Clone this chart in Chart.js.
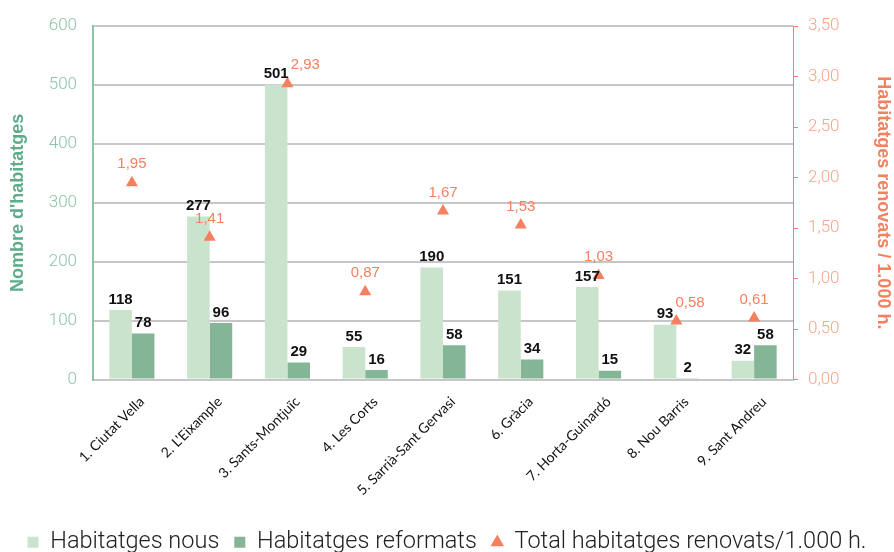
<!DOCTYPE html>
<html>
<head>
<meta charset="utf-8">
<script src="https://cdn.jsdelivr.net/npm/chart.js@4.4.1/dist/chart.umd.min.js"></script>
<style>
  html, body { margin: 0; padding: 0; background: #fff; }
  #wrap { width: 894px; height: 552px; }
</style>
</head>
<body>
<div id="wrap"><canvas id="chart" width="894" height="552"></canvas></div>
<script>
const districts = ['1. Ciutat Vella', '2. L\u2019Eixample', '3. Sants-Montju\u00efc', '4. Les Corts',
  '5. Sarri\u00e0-Sant Gervasi', '6. Gr\u00e0cia', '7. Horta-Guinard\u00f3', '8. Nou Barris', '9. Sant Andreu'];
const nous = [118, 277, 501, 55, 190, 151, 157, 93, 32];
const reformats = [78, 96, 29, 16, 58, 34, 15, 2, 58];
const totalPer1000 = [1.95, 1.41, 2.93, 0.87, 1.67, 1.53, 1.03, 0.58, 0.61];

const lightGreen = '#c9e3cd';
const darkGreen = '#84b597';
const orange = '#f5805f';

const fmt = (v) => v.toFixed(2).replace('.', ',');

// numbers above bars and triangles; triangle labels move right if they hit a bar label
const valueLabels = {
  id: 'valueLabels',
  afterDatasetsDraw(chart) {
    const ctx = chart.ctx;
    const boxes = [];
    ctx.save();
    ctx.textBaseline = 'bottom';
    ctx.textAlign = 'center';
    ctx.font = 'bold 15px "Liberation Sans", Arial, sans-serif';
    ctx.fillStyle = '#111';
    [0, 1].forEach((i) => {
      const ds = chart.data.datasets[i];
      chart.getDatasetMeta(i).data.forEach((el, j) => {
        const txt = String(ds.data[j]);
        const w = ctx.measureText(txt).width;
        const y = el.y - 3;
        ctx.fillText(txt, el.x, y);
        boxes.push({ l: el.x - w / 2, r: el.x + w / 2, t: y - 12, b: y });
      });
    });
    ctx.font = '15px "Liberation Sans", Arial, sans-serif';
    ctx.fillStyle = orange;
    const ds = chart.data.datasets[2];
    chart.getDatasetMeta(2).data.forEach((el, j) => {
      const txt = fmt(ds.data[j]);
      const w = ctx.measureText(txt).width;
      const y = el.y - 11;
      let x = el.x;
      boxes.forEach((b) => {
        if (x - w / 2 < b.r && x + w / 2 > b.l && y - 12 < b.b && y > b.t) {
          x = b.r + w / 2 + 2;
        }
      });
      ctx.fillText(txt, x, y);
    });
    ctx.restore();
  }
};

new Chart(document.getElementById('chart'), {
  data: {
    labels: districts,
    datasets: [
      {
        type: 'bar',
        label: 'Habitatges nous',
        data: nous,
        backgroundColor: lightGreen,
        yAxisID: 'y',
        pointStyle: 'rect',
        categoryPercentage: 0.58,
        barPercentage: 1.0,
        order: 1
      },
      {
        type: 'bar',
        label: 'Habitatges reformats',
        data: reformats,
        backgroundColor: darkGreen,
        yAxisID: 'y',
        pointStyle: 'rect',
        categoryPercentage: 0.58,
        barPercentage: 1.0,
        order: 1
      },
      {
        type: 'line',
        label: 'Total habitatges renovats/1.000 h.',
        data: totalPer1000,
        yAxisID: 'y1',
        showLine: false,
        pointStyle: 'triangle',
        pointRadius: 7,
        backgroundColor: orange,
        borderColor: orange,
        borderWidth: 0,
        order: 0
      }
    ]
  },
  options: {
    responsive: false,
    animation: false,
    layout: { padding: { top: 24, left: 0, right: 0, bottom: -12 } },
    plugins: {
      tooltip: { enabled: false },
      legend: {
        position: 'bottom',
        labels: {
          usePointStyle: true,
          boxWidth: 11,
          boxHeight: 11,
          padding: 15,
          color: '#222',
          font: { family: 'Roboto', size: 23.5, weight: 300 },
          sort: (a, b) => a.datasetIndex - b.datasetIndex
        }
      }
    },
    scales: {
      x: {
        afterFit: (s) => { s.height = 136; },
        grid: { display: false, drawTicks: false },
        border: { color: '#c6c6c6', width: 2 },
        ticks: {
          color: '#111',
          maxRotation: 45,
          minRotation: 45,
          padding: 14,
          labelOffset: 10,
          font: { family: 'Lato', size: 14 }
        }
      },
      y: {
        position: 'left',
        afterFit: (s) => { s.width = 93; },
        min: 0,
        max: 600,
        ticks: {
          stepSize: 100,
          color: '#8cc4a7',
          padding: 16,
          font: { family: 'Roboto', size: 17, weight: 300 }
        },
        grid: { color: '#c6c6c6', lineWidth: 2, drawTicks: false },
        border: { color: '#8cc4a7', width: 2 },
        title: {
          display: true,
          text: "Nombre d'habitatges",
          color: '#5cac8a',
          font: { family: '"Liberation Sans", Arial', size: 18, weight: 'bold' },
          padding: { top: 7, bottom: 0 }
        }
      },
      y1: {
        position: 'right',
        afterFit: (s) => { s.width = 101; },
        min: 0,
        max: 3.5,
        ticks: {
          stepSize: 0.5,
          color: '#f9a58b',
          padding: 10,
          callback: (v) => fmt(v),
          font: { family: 'Roboto', size: 17, weight: 300 }
        },
        grid: { drawOnChartArea: false, color: orange, tickLength: 5 },
        border: { color: orange, width: 1 },
        title: {
          display: true,
          text: 'Habitatges renovats / 1.000 h.',
          color: '#f3805f',
          font: { family: '"Liberation Sans", Arial', size: 18, weight: 'bold' },
          padding: { top: 0, bottom: 0 }
        }
      }
    }
  },
  plugins: [valueLabels]
});
</script>
</body>
</html>
